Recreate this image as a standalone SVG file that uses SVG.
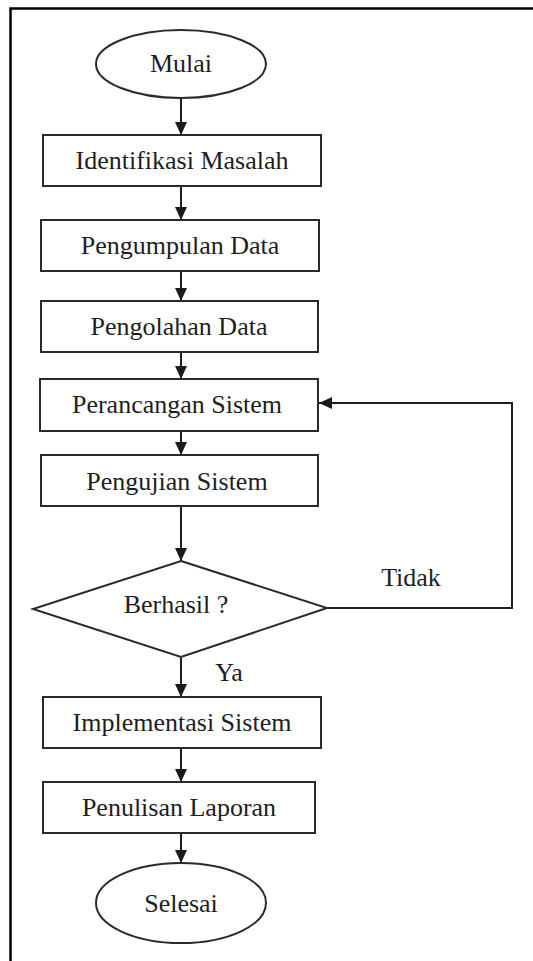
<svg xmlns="http://www.w3.org/2000/svg" width="533" height="961" viewBox="0 0 533 961">
<defs>
<marker id="ah" markerUnits="userSpaceOnUse" markerWidth="14" markerHeight="14" refX="13" refY="6" orient="auto">
<path d="M0,0 L13,6 L0,12 Z" fill="#1a1a1a"/>
</marker>
<style>
.n{fill:#fff;stroke:#2a2a2a;stroke-width:2}
.t{font-family:"Liberation Serif","Times New Roman",serif;font-size:26px;fill:#1e1e1e;text-anchor:middle}
.c{fill:none;stroke:#1e1e1e;stroke-width:2}
.f{stroke:#000;stroke-width:2.5;fill:none}
</style>
</defs>
<rect width="533" height="961" fill="#fff"/>
<path class="f" d="M10.5,961 V8.5 H533"/>
<g id="connectors">
<path class="c" d="M181,98 V135" marker-end="url(#ah)"/>
<path class="c" d="M181,186 V220" marker-end="url(#ah)"/>
<path class="c" d="M181,271 V301" marker-end="url(#ah)"/>
<path class="c" d="M181,352 V379" marker-end="url(#ah)"/>
<path class="c" d="M181,431 V455" marker-end="url(#ah)"/>
<path class="c" d="M181,506 V561" marker-end="url(#ah)"/>
<path class="c" d="M327,608 H512 V403 H319" marker-end="url(#ah)"/>
<path class="c" d="M181,657 V697" marker-end="url(#ah)"/>
<path class="c" d="M181,748 V782" marker-end="url(#ah)"/>
<path class="c" d="M181,833 V863" marker-end="url(#ah)"/>
<text class="t" x="411" y="586">Tidak</text>
<text class="t" x="229" y="681">Ya</text>
</g>
<g id="mulai"><ellipse class="n" cx="181" cy="64" rx="85" ry="34"/><text class="t" x="181" y="72">Mulai</text></g>
<g id="identifikasi"><rect class="n" x="43" y="135" width="278" height="51"/><text class="t" x="182" y="169">Identifikasi Masalah</text></g>
<g id="pengumpulan"><rect class="n" x="41" y="220" width="278" height="51"/><text class="t" x="180" y="254">Pengumpulan Data</text></g>
<g id="pengolahan"><rect class="n" x="41" y="301" width="277" height="51"/><text class="t" x="179" y="335">Pengolahan Data</text></g>
<g id="perancangan"><rect class="n" x="40" y="379" width="278" height="52"/><text class="t" x="177" y="413">Perancangan Sistem</text></g>
<g id="pengujian"><rect class="n" x="41" y="455" width="277" height="51"/><text class="t" x="177" y="490">Pengujian Sistem</text></g>
<g id="berhasil"><polygon class="n" points="181,561 327,608 181,657 33,609"/><text class="t" x="176" y="613">Berhasil ?</text></g>
<g id="implementasi"><rect class="n" x="43" y="697" width="278" height="51"/><text class="t" x="182" y="731">Implementasi Sistem</text></g>
<g id="penulisan"><rect class="n" x="43" y="782" width="272" height="51"/><text class="t" x="179" y="816">Penulisan Laporan</text></g>
<g id="selesai"><ellipse class="n" cx="181" cy="903" rx="85" ry="40"/><text class="t" x="181" y="912">Selesai</text></g>
</svg>
